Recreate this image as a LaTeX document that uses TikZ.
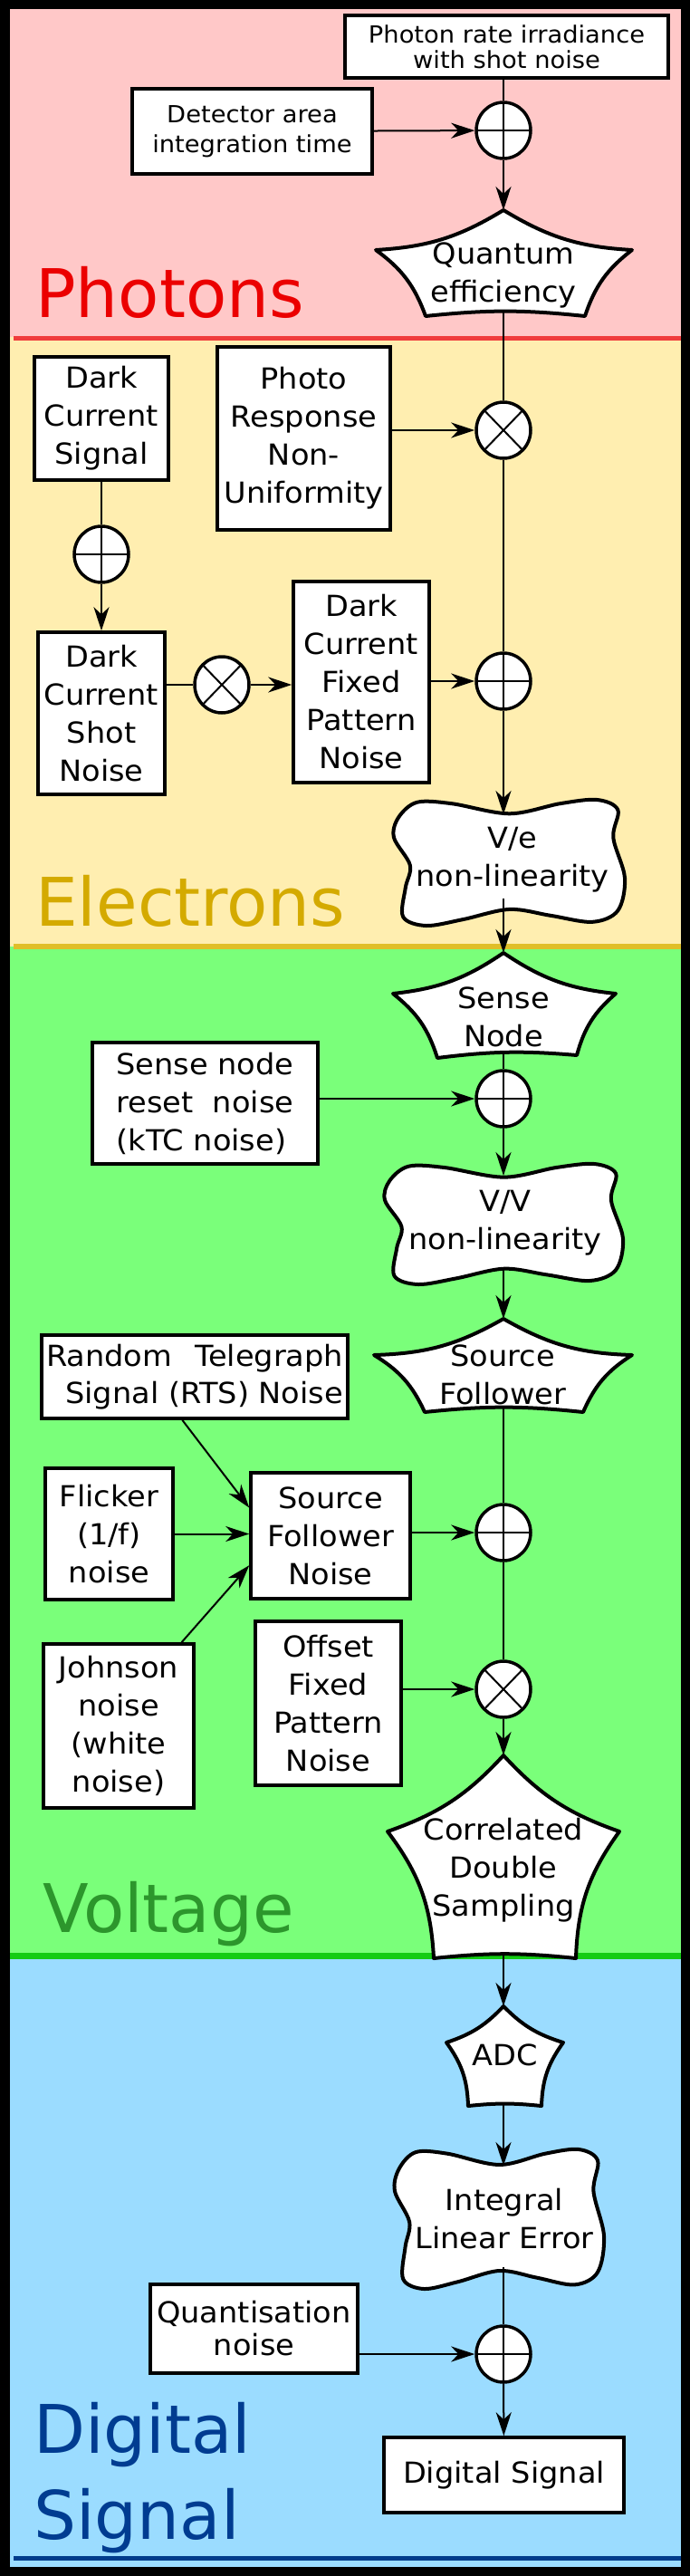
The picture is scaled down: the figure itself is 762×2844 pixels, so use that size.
\documentclass[tikz,border=0pt]{standalone}
\usepackage{fontspec}
\setmainfont{DejaVu Sans}[FakeStretch=1.05]
\newfontfamily\labelfont{DejaVu Sans}
\usetikzlibrary{arrows.meta,shapes.geometric}

\definecolor{pinkbg}{RGB}{255,200,200}
\definecolor{redline}{RGB}{240,60,60}
\definecolor{yellowbg}{RGB}{255,238,176}
\definecolor{goldline}{RGB}{224,190,40}
\definecolor{greenbg}{RGB}{122,255,122}
\definecolor{greenline}{RGB}{20,204,20}
\definecolor{bluebg}{RGB}{155,220,255}
\definecolor{blueline}{RGB}{0,60,140}
\definecolor{photred}{RGB}{235,0,0}
\definecolor{elecgold}{RGB}{212,170,0}
\definecolor{voltgreen}{RGB}{44,150,44}
\definecolor{digblue}{RGB}{0,60,145}

\newcommand\bodyfont{\fontsize{32}{42}\selectfont}

\tikzset{
  bx/.style={draw, line width=3.5pt, fill=white, align=center, inner sep=2pt, font=\bodyfont},
  txt/.style={align=center, inner sep=0pt, font=\bodyfont},
  lbl/.style={inner sep=0pt, font=\labelfont\fontsize{74}{95}\selectfont},
  jn/.style={ellipse, draw, line width=3.5pt, fill=white, minimum width=60pt, minimum height=62pt, inner sep=0pt},
  plusjn/.style={jn, path picture={\draw[line width=2pt] (path picture bounding box.north) -- (path picture bounding box.south) (path picture bounding box.west) -- (path picture bounding box.east);}},
  timesjn/.style={jn, path picture={\draw[line width=2pt] (path picture bounding box.north west) -- (path picture bounding box.south east) (path picture bounding box.north east) -- (path picture bounding box.south west);}},
  shp/.style={draw, line width=4pt, fill=white, line join=round},
  ln/.style={line width=2pt},
  arr/.style={line width=2pt, -{Stealth[length=26pt, width=17pt, inset=8pt]}},
  tb/.style={bend right=14},
  sb/.style={bend right=17},
  bb/.style={bend right=6},
}

\begin{document}
\begin{tikzpicture}[x=1pt,y=-1pt]
\useasboundingbox (0,0) rectangle (762,2844);
% panels
\fill[black] (0,0) rectangle (762,2844);
\fill[pinkbg] (11,10) rectangle (752,372);
\fill[yellowbg] (11,372) rectangle (752,1045);
\fill[greenbg] (11,1045) rectangle (752,2159);
\fill[bluebg] (11,2159) rectangle (752,2834);
\draw[redline, line width=5pt] (15,373) -- (752,373);
\draw[goldline, line width=6pt] (15,1045) -- (752,1045);
\draw[greenline, line width=7pt] (11,2159) -- (752,2159);
\draw[blueline, line width=5pt] (15,2824) -- (752,2824);

% section labels
\node[lbl, text=photred, anchor=base west] (lphot) at (39,350) {Photons};
\node[lbl, text=elecgold, anchor=base west] (lelec) at (39,1022) {Electrons};
\node[lbl, text=voltgreen, anchor=base west] (lvolt) at (47,2133) {Voltage};
\node[lbl, text=digblue, anchor=north west, align=left] (ldig) at (37,2652) {Digital\\Signal};

% star shapes
\draw[shp] (556,232) to[tb] (698,276) to[sb] (646,349) to[bb] (470,349) to[sb] (415,276) to[tb] (556,232) -- cycle;
\draw[shp] (556,1052) to[tb] (680,1097) to[sb] (637,1165) to[bb] (483,1168) to[sb] (434,1097) to[tb] (556,1052) -- cycle;
\draw[shp] (556,1456) to[tb] (698,1496) to[sb] (644,1559) to[bb] (469,1559) to[sb] (413,1496) to[tb] (556,1456) -- cycle;
\draw[shp] (556,1938) to[tb] (684,2022) to[sb] (636,2162) to[bb] (479,2162) to[sb] (428,2022) to[tb] (556,1938) -- cycle;
\draw[shp] (556,2215) to[tb] (622,2255) to[sb] (598,2325) to[bb] (517,2325) to[sb] (493,2255) to[tb] (556,2215) -- cycle;

% wavy shapes
\foreach \sx/\sy/\sw/\sh in {435/883/255/139, 425/1285/263/133, 436/2373/231/154}{
  \begin{scope}[shift={(\sx,\sy)}, xscale=\sw, yscale=\sh]
    \draw[shp] plot[smooth cycle, tension=0.55] coordinates {(0.02,0.14) (0.1,0.02) (0.25,0.03) (0.5,0.11) (0.72,0.03) (0.88,0.0) (0.97,0.08) (0.95,0.3) (1.0,0.62) (0.97,0.88) (0.86,0.97) (0.68,0.92) (0.5,0.87) (0.3,0.95) (0.14,1.0) (0.04,0.93) (0.05,0.7) (0.07,0.52) (0.0,0.3)};
  \end{scope}
}

% connection points on shapes
\coordinate (qe-t) at (556,232);
\coordinate (qe-b) at (556,342);
\coordinate (ve-t) at (556,899);
\coordinate (ve-b) at (556,992);
\coordinate (sn-t) at (556,1052);
\coordinate (sn-b) at (556,1164);
\coordinate (vv-t) at (556,1298);
\coordinate (vv-b) at (556,1400);
\coordinate (sf-t) at (556,1456);
\coordinate (sf-b) at (556,1555);
\coordinate (cds-t) at (556,1938);
\coordinate (cds-b) at (556,2157);
\coordinate (adc-t) at (556,2215);
\coordinate (adc-b) at (556,2322);
\coordinate (ile-t) at (556,2391);
\coordinate (ile-b) at (556,2503);

% shape texts
\node[txt] (qe) at (556,304) {Quantum\\efficiency};
\node[txt] (ve) at (566,949) {V/e\\non-linearity};
\node[txt] (sn) at (556,1123) {Sense\\Node};
\node[txt] (vv) at (558,1350) {V/V\\non-linearity};
\node[txt] (sf) at (555,1518) {Source\\Follower};
\node[txt] (cds) at (556,2065) {Correlated\\Double\\Sampling};
\node[txt] (adc) at (558,2269) {ADC};
\node[txt] (ile) at (557,2450) {Integral\\Linear Error};

% boxes
\node[bx, font=\fontsize{26}{28}\selectfont, minimum width=357pt, minimum height=69pt] (phot) at (559.5,51.5) {Photon rate irradiance\\with shot noise};
\node[bx, font=\fontsize{26}{33}\selectfont, minimum width=265pt, minimum height=94pt] (det) at (278.5,145) {Detector area\\integration time};
\node[bx, minimum width=148pt, minimum height=136pt] (dcs) at (112,462) {Dark\\Current\\Signal};
\node[bx, minimum width=191pt, minimum height=202pt] (prnu) at (335.5,484) {Photo\\Response\\Non-\\Uniformity};
\node[bx, minimum width=140pt, minimum height=179pt] (dcsn) at (112,787.5) {Dark\\Current\\Shot\\Noise};
\node[bx, minimum width=150pt, minimum height=222pt] (dcfpn) at (399,753) {Dark\\Current\\Fixed\\Pattern\\Noise};
\node[bx, align=left, minimum width=249pt, minimum height=134pt] (snrn) at (226.5,1218) {Sense node\\reset~~noise\\(kTC noise)};
\node[bx, align=right, font=\fontsize{32}{41}\selectfont, minimum width=338pt, minimum height=92pt] (rts) at (215,1520) {\makebox[328pt][s]{Random Telegraph}\\Signal (RTS) Noise};
\node[bx, minimum width=141pt, minimum height=145pt] (flick) at (120.5,1693.5) {Flicker\\(1/f)\\noise};
\node[bx, minimum width=176pt, minimum height=139pt] (sfn) at (365,1695.5) {Source\\Follower\\Noise};
\node[bx, minimum width=166pt, minimum height=181pt] (john) at (131,1905.5) {Johnson\\noise\\(white\\noise)};
\node[bx, minimum width=161pt, minimum height=181pt] (ofpn) at (362.5,1880.5) {Offset\\Fixed\\Pattern\\Noise};
\node[bx, font=\fontsize{32}{36}\selectfont, minimum width=229pt, minimum height=98pt] (quant) at (280.5,2571) {Quantisation\\noise};
\node[bx, minimum width=265pt, minimum height=83pt] (dig) at (556.5,2732.5) {Digital Signal};

% junctions
\node[plusjn] (p1) at (556,144) {};
\node[timesjn] (x1) at (556,475) {};
\node[plusjn] (p2) at (112,612) {};
\node[timesjn] (x2) at (245,756) {};
\node[plusjn] (p3) at (556,752) {};
\node[plusjn] (p4) at (556,1213) {};
\node[plusjn] (p5) at (556,1692) {};
\node[timesjn] (x3) at (556,1865) {};
\node[plusjn] (p6) at (556,2599) {};

% connectors
\draw[ln] (phot.south -| p1) -- (p1);
\draw[arr] (det) -- (p1);
\draw[arr] (p1) -- (qe-t);
\draw[ln] (qe-b) -- (x1);
\draw[arr] (prnu.east |- x1) -- (x1);
\draw[ln] (x1) -- (p3);
\draw[ln] (dcs) -- (p2);
\draw[arr] (p2) -- (dcsn);
\draw[ln] (dcsn.east |- x2) -- (x2);
\draw[arr] (x2) -- (dcfpn.west |- x2);
\draw[arr] (dcfpn.east |- p3) -- (p3);
\draw[arr] (p3) -- (ve-t);
\draw[arr] (ve-b) -- (sn-t);
\draw[ln] (sn-b) -- (p4);
\draw[arr] (snrn.east |- p4) -- (p4);
\draw[arr] (p4) -- (vv-t);
\draw[arr] (vv-b) -- (sf-t);
\draw[ln] (sf-b) -- (p5);
\draw[arr] (rts.254) -- (sfn.161);
\draw[arr] (flick.east) -- (sfn.west |- flick.east);
\draw[arr] (john.53) -- (sfn.200);
\draw[arr] (sfn.east |- p5) -- (p5);
\draw[ln] (p5) -- (x3);
\draw[arr] (ofpn.east |- x3) -- (x3);
\draw[arr] (x3) -- (cds-t);
\draw[arr] (cds-b) -- (adc-t);
\draw[arr] (adc-b) -- (ile-t);
\draw[ln] (ile-b) -- (p6);
\draw[arr] (quant.east |- p6) -- (p6);
\draw[arr] (p6) -- (dig);
\end{tikzpicture}
\end{document}
